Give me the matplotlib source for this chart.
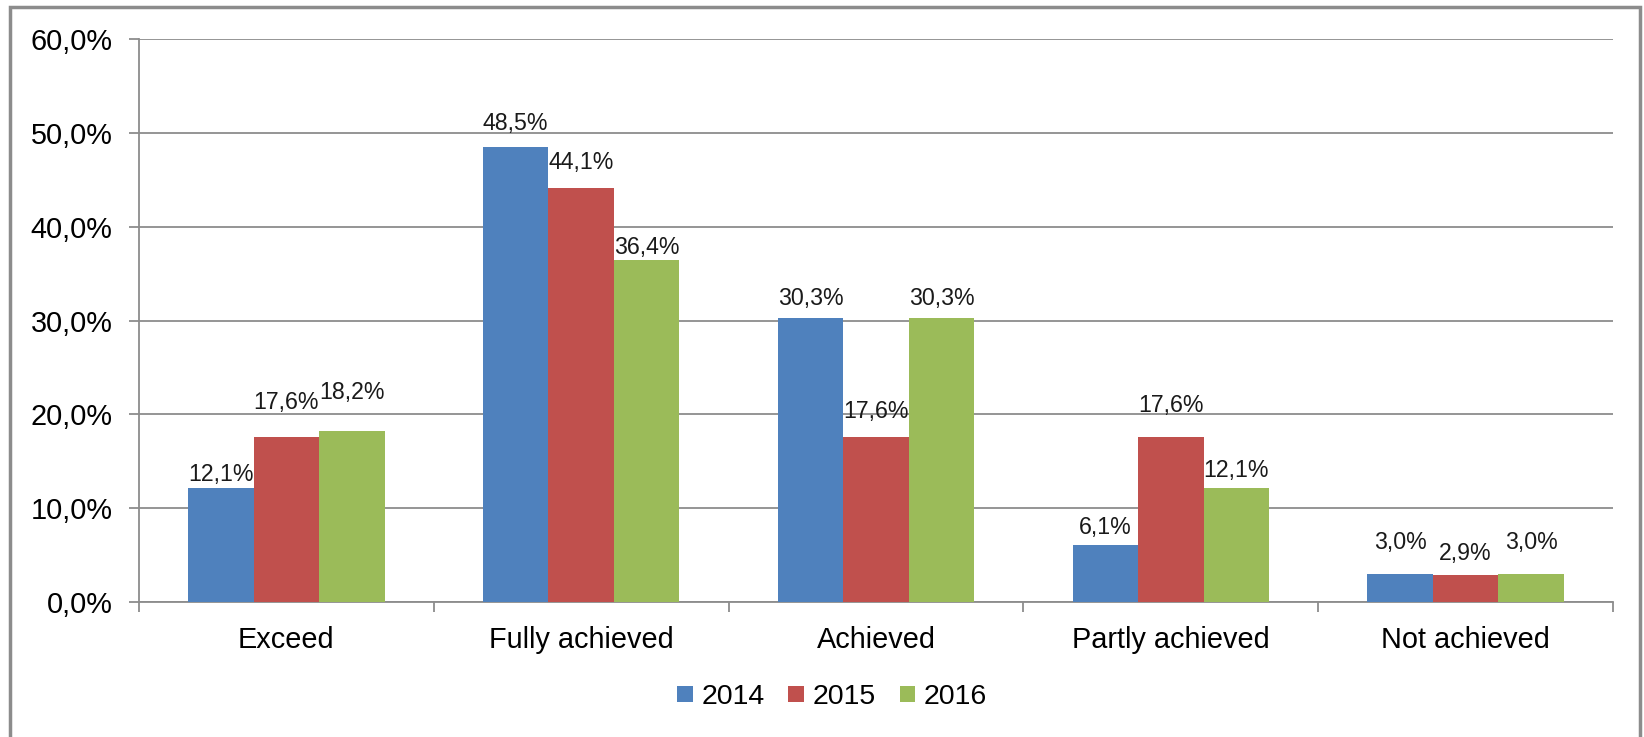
import matplotlib.pyplot as plt
import numpy as np
from matplotlib.patches import Rectangle

plt.rcParams['font.family'] = ['Liberation Sans', 'DejaVu Sans']

categories = ['Exceed', 'Fully achieved', 'Achieved', 'Partly achieved', 'Not achieved']
years = ['2014', '2015', '2016']
vals_2014 = [12.1, 48.5, 30.3, 6.1, 3.0]
vals_2015 = [17.6, 44.1, 17.6, 17.6, 2.9]
vals_2016 = [18.2, 36.4, 30.3, 12.1, 3.0]
colors = ['#4F81BD', '#C0504D', '#9BBB59']

# gap (px) between label baseline and bar top, as placed in the original
label_gap = [[7.7, 17, 13, 10.7, 25],
             [27.7, 19, 19, 25.3, 15],
             [32.7, 6.7, 13, 11.7, 25]]

W, H = 1644, 737
fig = plt.figure(figsize=(W / 100, H / 100), dpi=100)
ax = fig.add_axes([139 / W, 1 - 602 / H, (1613 - 139) / W, (602 - 39) / H])

# outer chart frame
fig.patches.append(Rectangle((10 / W, -0.05), (1640 - 10) / W, 1.05 - 7 / H,
                             transform=fig.transFigure, fill=False,
                             edgecolor='#8c8c8c', linewidth=2.5))

x = np.arange(len(categories))
bw = 1 / 4.5
series = [vals_2014, vals_2015, vals_2016]
for i, (vals, c, yr) in enumerate(zip(series, colors, years)):
    pos = x + (i - 1) * bw
    ax.bar(pos, vals, width=bw, color=c, label=yr, zorder=3)
    for p, v, g in zip(pos, vals, label_gap[i]):
        ax.annotate(f'{v:.1f}%'.replace('.', ','), (p, v), xytext=(0, g * 0.72),
                    textcoords='offset points', ha='center', va='baseline',
                    fontsize=16.7, color='#1a1a1a', zorder=4)

ax.set_xlim(-0.5, len(categories) - 0.5)
ax.set_ylim(0, 60)
ax.set_yticks(np.arange(0, 61, 10))
ax.set_yticklabels([f'{t:.1f}%'.replace('.', ',') for t in np.arange(0, 61, 10)])
ax.yaxis.grid(True, color='#8c8c8c', linewidth=1.3, zorder=0)

ax.set_xticks(x)
ax.set_xticklabels(categories)
ax.set_xticks(np.arange(-0.5, len(categories)), minor=True)
ax.tick_params(axis='x', which='major', length=0, pad=17, labelsize=20.8)
ax.tick_params(axis='x', which='minor', length=7, width=1.3, color='#8c8c8c', direction='out')
ax.tick_params(axis='y', length=7, width=1.3, color='#8c8c8c', pad=12, labelsize=20.8)

for s in ['top', 'right']:
    ax.spines[s].set_visible(False)
for s in ['left', 'bottom']:
    ax.spines[s].set_color('#8c8c8c')
    ax.spines[s].set_linewidth(1.3)

fig.legend(loc='center', bbox_to_anchor=(832 / W, 1 - 697 / H), ncol=3, frameon=False,
           fontsize=20.5, handlelength=0.56, handleheight=0.49, handletextpad=0.28,
           columnspacing=0.84)

fig.savefig('out.png', dpi=100)
